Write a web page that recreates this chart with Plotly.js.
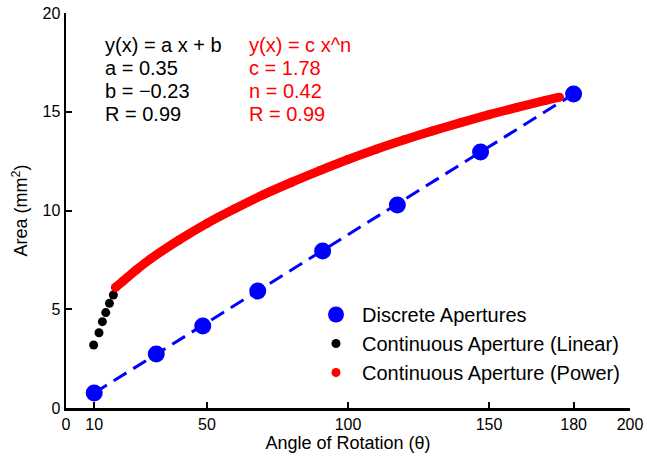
<!DOCTYPE html>
<html>
<head>
<meta charset="utf-8">
<script src="https://cdn.plot.ly/plotly-3.0.1.min.js"></script>
<style>html,body{margin:0;padding:0;background:#fff;}#chart{width:647px;height:463px;}</style>
</head>
<body>
<div id="chart"></div>
<script>
// Discrete apertures (blue)
const discreteX = [10, 32, 48.5, 68, 91, 117.5, 147, 180];
const discreteY = [0.76, 2.73, 4.15, 5.92, 7.95, 10.28, 12.96, 15.9];
// Linear fit through discrete apertures (dashed blue)
const fitX = [10, 180];
const fitY = [0.76, 15.9];
// Continuous aperture (linear part, black)
const linX = [9.8, 11.7, 12.9, 14.1, 15.4, 16.8];
const linY = [3.19, 3.81, 4.37, 4.83, 5.30, 5.72];
// Continuous aperture (power part, red)
const powX = [17.5, 20, 25, 30, 40, 50, 60, 70, 80, 90, 100, 110, 120, 130, 140, 150, 160, 170, 175];
const powY = [6.1, 6.4, 7.0, 7.55, 8.5, 9.35, 10.1, 10.8, 11.43, 12.02, 12.58, 13.1, 13.58, 14.03, 14.45, 14.85, 15.22, 15.57, 15.74];
// Tick labels
const xTicks = [0, 10, 50, 100, 150, 180, 200];
const yTicks = [0, 5, 10, 15, 20];
// Fit text
const linText = ["y(x) = a x + b", "a = 0.35", "b = \u22120.23", "R = 0.99"];
const powText = ["y(x) = c x^n", "c = 1.78", "n = 0.42", "R = 0.99"];

const FONT = "Liberation Sans, Arial, Helvetica, sans-serif";

const traces = [
  {x: fitX, y: fitY, mode: "lines", showlegend: false, hoverinfo: "skip",
   line: {color: "#0000ff", width: 3, dash: "15px,8px"}},
  {x: discreteX, y: discreteY, mode: "markers", name: "Discrete Apertures",
   marker: {color: "#0000ff", size: 17}},
  {x: linX, y: linY, mode: "markers", name: "Continuous Aperture (Linear)",
   marker: {color: "#000000", size: 9}},
  {x: powX, y: powY, mode: "lines", showlegend: false, hoverinfo: "skip",
   line: {color: "#ff0000", width: 9, shape: "spline", smoothing: 0.8}},
  {x: powX, y: powY, mode: "markers", name: "Continuous Aperture (Power)",
   marker: {color: "#ff0000", size: 9}}
];

const annotations = [];
const lineTops = [45, 68, 91, 114];
linText.forEach((t, i) => annotations.push({
  xref: "paper", yref: "paper", x: (103 - 66) / 564, y: 1 - (lineTops[i] - 13) / 395,
  xanchor: "left", yanchor: "middle", text: t, showarrow: false,
  font: {family: FONT, size: 20, color: "#000000"}
}));
powText.forEach((t, i) => annotations.push({
  xref: "paper", yref: "paper", x: (247 - 66) / 564, y: 1 - (lineTops[i] - 13) / 395,
  xanchor: "left", yanchor: "middle", text: t, showarrow: false,
  font: {family: FONT, size: 20, color: "#ff0000"}
}));

const axisCommon = {
  showline: true, linecolor: "#000", linewidth: 2.5,
  ticks: "inside", ticklen: 6, tickwidth: 2, tickcolor: "#000",
  showgrid: false, zeroline: false, mirror: false,
  tickfont: {family: FONT, size: 16, color: "#000"}
};

const layout = {
  width: 647, height: 463,
  margin: {l: 66, r: 17, t: 13, b: 55},
  paper_bgcolor: "#fff", plot_bgcolor: "#fff",
  font: {family: FONT, color: "#000"},
  xaxis: Object.assign({}, axisCommon, {
    range: [0, 200], tickmode: "array", tickvals: xTicks, ticktext: xTicks.map(String),
    title: {text: "Angle of Rotation (\u03b8)", font: {family: FONT, size: 18, color: "#000"}, standoff: 5}
  }),
  yaxis: Object.assign({}, axisCommon, {
    range: [0, 20], tickmode: "array", tickvals: yTicks, ticktext: yTicks.map(String),
    title: {text: "Area (mm<sup>2</sup>)", font: {family: FONT, size: 18, color: "#000"}, standoff: 10}
  }),
  legend: {
    x: (310 - 66) / 564, y: 1 - (295 - 13) / 395, xanchor: "left", yanchor: "top",
    bgcolor: "rgba(0,0,0,0)", borderwidth: 0,
    font: {family: FONT, size: 20, color: "#000"},
    itemsizing: "trace", itemwidth: 42
  },
  annotations: annotations,
  showlegend: true
};

Plotly.newPlot("chart", traces, layout, {displayModeBar: false, staticPlot: true});
</script>
</body>
</html>
